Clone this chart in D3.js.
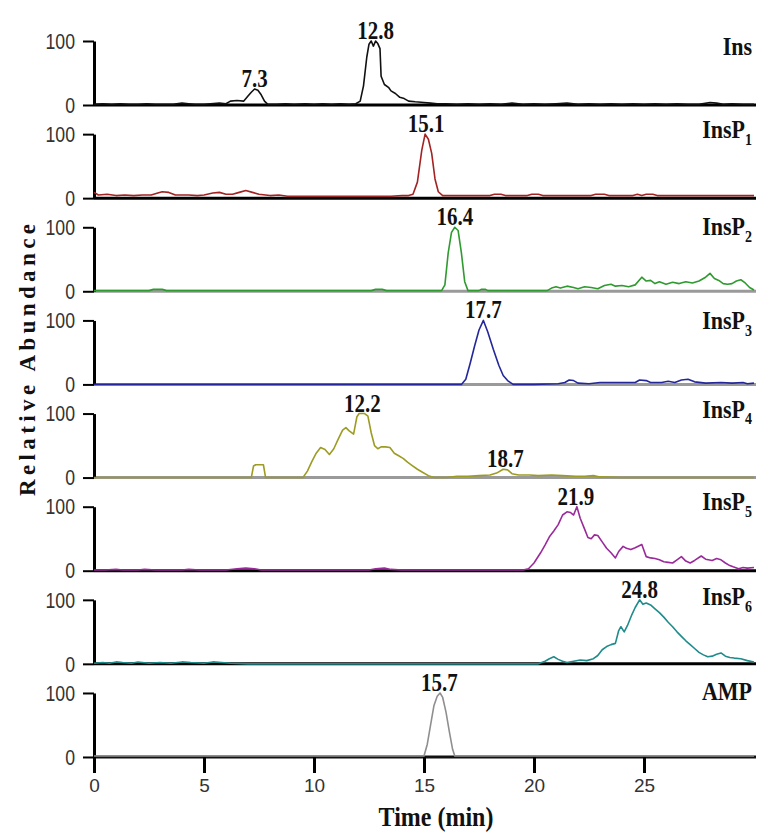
<!DOCTYPE html>
<html>
<head>
<meta charset="utf-8">
<script src="https://cdn.jsdelivr.net/npm/d3@7/dist/d3.min.js"></script>
<style>
  html, body { margin: 0; padding: 0; background: #fff; }
  svg { display: block; }
</style>
</head>
<body>
<svg id="chart" width="761" height="840"></svg>
<script>
// ---------------- DATA ----------------
const panelNames = ["Ins", "InsP", "InsP", "InsP", "InsP", "InsP", "InsP", "AMP"];
const panelSubs  = ["", "1", "2", "3", "4", "5", "6", ""];
const yTickValues = [0, 100];
const xTickValues = [0, 5, 10, 15, 20, 25];

const traceIns = [[0,1],[0.4,2],[0.8,1],[1.2,2],[1.6,1],[2.0,1],[2.4,2],[2.8,1],[3.2,1],[3.6,1],[4.0,3],[4.3,2],[4.6,1],[5.0,1],[5.3,2],[5.7,3],[6.0,2],[6.2,6],[6.5,7],[6.8,6],[7.0,14],[7.15,20],[7.3,25],[7.45,23],[7.6,16],[7.75,6],[7.9,1],[8.3,1],[8.7,2],[9.1,1],[9.6,2],[10.0,1],[10.4,2],[10.8,1],[11.2,2],[11.6,1],[11.9,2],[12.1,6],[12.25,30],[12.4,75],[12.5,95],[12.6,100],[12.7,92],[12.8,100],[12.9,96],[13.0,88],[13.05,45],[13.2,32],[13.4,27],[13.5,22],[13.7,18],[13.9,12],[14.1,10],[14.3,6],[14.6,5],[15.0,4],[15.3,3],[15.6,2],[16.0,2],[16.5,1],[17.0,2],[17.5,1],[18.0,2],[18.5,1],[19.0,3],[19.5,1],[20.0,2],[20.5,1],[21.0,2],[21.5,3],[22.0,1],[22.5,2],[23.0,1],[23.5,2],[24.0,1],[24.5,2],[25.0,1],[25.5,2],[26.0,1],[26.5,2],[27.0,1],[27.5,1],[28.0,4],[28.3,3],[28.6,1],[29.0,2],[29.5,1],[30,1]];

const traceInsP1 = [[0,9],[0.2,5],[0.6,6],[1.0,4],[1.4,5],[1.8,4],[2.2,5],[2.6,5],[2.9,8],[3.1,10],[3.4,9],[3.7,5],[4.3,5],[4.7,4],[5.0,5],[5.4,8],[5.7,9],[6.0,6],[6.3,6],[6.6,9],[6.9,12],[7.2,9],[7.5,6],[8.0,4],[8.4,5],[8.8,3],[9.5,3],[10.5,3],[11.5,3],[12.5,3],[13.5,3],[14.0,4],[14.3,4],[14.5,6],[14.7,25],[14.9,75],[15.05,100],[15.2,92],[15.35,70],[15.5,30],[15.65,10],[15.85,4],[16.4,4],[17.0,4],[18.0,4],[18.2,6],[18.5,6],[18.7,4],[19.7,4],[19.9,6],[20.2,6],[20.4,4],[21.5,4],[22.6,4],[22.8,6],[23.2,6],[23.4,4],[24.5,4],[24.7,6],[24.9,4],[25.1,6],[25.4,6],[25.6,4],[26.5,4],[27.5,4],[28.5,4],[29.5,4],[30,4]];

const traceInsP2 = [[0,1],[1,1],[2.5,1],[2.7,3],[3.1,3],[3.3,1],[5,1],[7,1],[9,1],[11,1],[12.6,1],[12.8,3],[13.1,3],[13.3,1],[15.0,1],[15.8,1],[15.95,10],[16.1,60],[16.25,92],[16.4,100],[16.55,95],[16.7,60],[16.85,15],[17.0,1],[17.5,1],[17.6,3],[17.8,3],[17.9,1],[19,1],[20.6,1],[20.8,5],[21.0,7],[21.2,5],[21.5,8],[21.8,6],[22.0,4],[22.3,7],[22.6,6],[22.9,4],[23.2,9],[23.5,11],[23.7,8],[24.0,9],[24.3,7],[24.6,10],[24.9,22],[25.1,16],[25.3,17],[25.5,12],[25.7,15],[26.0,11],[26.3,14],[26.6,12],[26.9,15],[27.2,13],[27.5,16],[27.8,22],[28.0,28],[28.2,20],[28.4,17],[28.6,12],[28.8,11],[29.0,12],[29.2,16],[29.4,18],[29.6,13],[29.8,6],[30,2]];

const traceInsP3 = [[0,0],[5,0],[10,0],[15,0],[16.7,0],[16.9,8],[17.1,33],[17.3,60],[17.5,85],[17.7,100],[17.9,82],[18.15,55],[18.4,30],[18.6,14],[18.8,6],[19.05,0],[20.0,0],[21.1,1],[21.4,3],[21.6,7],[21.8,6],[22.0,2],[22.5,1],[23.0,3],[24.0,3],[24.6,3],[24.8,7],[25.1,6],[25.3,3],[25.8,3],[26.1,5],[26.4,3],[26.7,7],[27.0,8],[27.3,4],[27.8,2],[28.5,3],[29.0,2],[29.5,3],[29.7,1],[30,2]];

const traceInsP4 = [[0,0],[3,0],[7.15,0],[7.25,18],[7.35,20],[7.7,20],[7.8,0],[9.5,0],[9.7,10],[9.9,25],[10.1,38],[10.3,47],[10.5,44],[10.7,36],[10.9,45],[11.1,60],[11.3,74],[11.45,78],[11.6,73],[11.8,68],[11.95,95],[12.05,100],[12.3,100],[12.45,96],[12.6,70],[12.75,50],[12.9,45],[13.05,48],[13.25,48],[13.45,47],[13.65,38],[13.85,34],[14.05,30],[14.25,24],[14.45,19],[14.7,13],[14.95,8],[15.2,3],[15.45,0],[16.0,0],[16.5,2],[17.0,2],[17.5,3],[18.0,4],[18.3,7],[18.6,13],[18.8,12],[19.0,6],[19.3,4],[19.8,4],[20.2,3],[20.8,4],[21.3,3],[21.9,2],[22.3,2],[22.7,3],[23.0,1],[24,0],[26,0],[30,0]];

const traceInsP5 = [[0,1],[0.5,1],[1.0,2],[1.3,1],[2.0,1],[2.3,2],[2.8,1],[3.5,1],[4.0,1],[4.3,2],[4.8,1],[6.0,1],[6.5,3],[6.9,4],[7.3,3],[7.6,1],[9,1],[11,1],[12.5,1],[12.8,3],[13.2,4],[13.5,2],[14,1],[16,1],[18,1],[19.5,1],[19.75,3],[20.0,12],[20.3,28],[20.5,40],[20.7,53],[20.9,62],[21.1,72],[21.3,87],[21.5,92],[21.65,91],[21.8,87],[21.95,100],[22.1,82],[22.3,65],[22.45,52],[22.6,50],[22.75,56],[22.9,55],[23.1,45],[23.3,35],[23.5,28],[23.7,20],[23.85,30],[24.05,38],[24.2,35],[24.4,33],[24.6,36],[24.9,41],[25.1,22],[25.3,20],[25.5,19],[25.7,17],[25.9,14],[26.1,13],[26.3,12],[26.5,17],[26.7,22],[26.9,15],[27.1,12],[27.3,16],[27.6,23],[27.8,18],[28.1,16],[28.3,19],[28.5,17],[28.7,12],[28.9,8],[29.05,6],[29.3,3],[29.5,5],[29.7,4],[30,5]];

const traceInsP6 = [[0,1],[0.4,2],[0.7,1],[1.0,3],[1.3,2],[1.7,1],[2.0,3],[2.5,1],[3.0,2],[3.5,1],[4.0,3],[4.4,2],[5.0,1],[5.4,3],[5.8,2],[6.2,1],[7,0],[10,0],[13,0],[16,0],[20.2,0],[20.5,4],[20.7,8],[20.9,11],[21.1,7],[21.3,4],[21.5,2],[21.8,4],[22.1,6],[22.4,5],[22.7,8],[22.9,13],[23.1,22],[23.3,27],[23.5,30],[23.7,32],[23.85,52],[23.95,58],[24.1,50],[24.25,60],[24.45,77],[24.6,88],[24.8,100],[24.95,93],[25.1,95],[25.3,92],[25.5,86],[25.7,80],[25.9,73],[26.1,65],[26.3,58],[26.5,50],[26.7,43],[26.9,36],[27.1,30],[27.3,24],[27.5,18],[27.7,14],[27.9,11],[28.1,12],[28.3,15],[28.5,17],[28.7,12],[28.9,10],[29.1,9],[29.4,8],[29.7,5],[30,3]];

const traceAMP = [[0,1.5],[15.0,1.5],[15.15,20],[15.3,50],[15.45,80],[15.6,95],[15.73,100],[15.85,93],[16.0,70],[16.15,40],[16.3,12],[16.4,1.5],[30,1.5]];

const traces = [traceIns, traceInsP1, traceInsP2, traceInsP3, traceInsP4, traceInsP5, traceInsP6, traceAMP];

// peak annotations: panel index, retention time, peak height (value), label
const peakPanel = [0, 0, 1, 2, 3, 4, 4, 5, 6, 7];
const peakTime  = [7.3, 12.8, 15.1, 16.4, 17.7, 12.2, 18.7, 21.9, 24.8, 15.7];
const peakValue = [25, 100, 100, 100, 100, 100, 14, 100, 100, 100];
const peakText  = ["7.3", "12.8", "15.1", "16.4", "17.7", "12.2", "18.7", "21.9", "24.8", "15.7"];

// ---------------- STYLE / LAYOUT ----------------
const traceColors = ["#111111", "#a32222", "#2f9a2f", "#23279a", "#9c9c22", "#9a2a9a", "#1f8b8b", "#8f8f8f"];
const baseColors  = ["#000", "#000", "#9a9a9a", "#9a9a9a", "#9a9a9a", "#000", "#000", "#111"];
const labelDy = [14, 4, 8, 9, 4, 3, 5, 7];

const svg = d3.select("#chart");
const x = d3.scaleLinear().domain([0, 30]).range([94, 754]);
const firstBase = 105, panelStep = 93.14, panelH = 64;

const serif = "'Liberation Serif', 'Times New Roman', serif";
const sans = "'Liberation Sans', Arial, sans-serif";

traces.forEach((data, i) => {
  const yb = firstBase + i * panelStep;
  const y = d3.scaleLinear().domain([0, 100]).range([yb, yb - panelH]);
  const g = svg.append("g");

  // baseline
  g.append("line")
    .attr("x1", x(0)).attr("x2", x(30) + 2)
    .attr("y1", y(0)).attr("y2", y(0))
    .attr("stroke", baseColors[i]).attr("stroke-width", 3);

  // y axis
  const ax = g.append("g").attr("transform", `translate(${x(0)},0)`)
    .call(d3.axisLeft(y).tickValues(yTickValues).tickSize(11).tickSizeOuter(0).tickPadding(8));
  ax.select(".domain").attr("stroke", "#000").attr("stroke-width", 3);
  ax.selectAll(".tick line").attr("stroke", "#000").attr("stroke-width", 2);
  ax.selectAll(".tick text")
    .attr("font-family", sans).attr("font-size", 19).attr("fill", "#333")
    .attr("x", 0).attr("dy", "0.34em")
    .attr("transform", "translate(-19,0) scale(0.93,1.12)");

  // trace
  const line = d3.line().x(d => x(d[0])).y(d => y(d[1]));
  g.append("path").datum(data)
    .attr("d", line)
    .attr("fill", "none")
    .attr("stroke", traceColors[i])
    .attr("stroke-width", 1.6)
    .attr("stroke-linejoin", "round");

  // series label
  const lx = 752, ly = y(100) + labelDy[i];
  const t = g.append("text")
    .attr("transform", `translate(${lx},${ly}) scale(1,1.15)`)
    .attr("text-anchor", "end")
    .attr("font-family", serif).attr("font-weight", "bold").attr("font-size", 22)
    .attr("fill", "#111");
  t.append("tspan").text(panelNames[i]);
  if (panelSubs[i]) {
    t.append("tspan").attr("font-size", 14).attr("dy", 6).text(panelSubs[i]);
  }
});

// peak labels
peakText.forEach((txt, k) => {
  const i = peakPanel[k];
  const yb = firstBase + i * panelStep;
  const y = d3.scaleLinear().domain([0, 100]).range([yb, yb - panelH]);
  svg.append("text")
    .attr("transform", `translate(${x(peakTime[k])},${y(peakValue[k]) - 2}) scale(1,1.18)`)
    .attr("text-anchor", "middle")
    .attr("font-family", serif).attr("font-size", 21).attr("font-weight", "bold")
    .attr("fill", "#111")
    .text(txt);
});

// bottom x axis ticks
const lastBase = firstBase + 7 * panelStep;
const xa = svg.append("g").attr("transform", `translate(0,${lastBase})`)
  .call(d3.axisBottom(x).tickValues(xTickValues).tickFormat(d3.format("d")).tickSize(16).tickSizeOuter(0).tickPadding(6));
xa.select(".domain").remove();
xa.selectAll(".tick line").attr("stroke", "#000").attr("stroke-width", 3);
xa.selectAll(".tick text").attr("font-family", sans).attr("font-size", 19).attr("fill", "#333");

// axis titles
svg.append("text")
  .attr("transform", `translate(436,826) scale(1,1.12)`)
  .attr("text-anchor", "middle")
  .attr("font-family", serif).attr("font-weight", "bold").attr("font-size", 24)
  .attr("fill", "#111")
  .text("Time (min)");

svg.append("text")
  .attr("transform", `translate(35,360) rotate(-90)`)
  .attr("text-anchor", "middle")
  .attr("font-family", serif).attr("font-weight", "bold").attr("font-size", 23)
  .attr("textLength", 272).attr("lengthAdjust", "spacing")
  .attr("fill", "#111")
  .text("Relative Abundance");
</script>
</body>
</html>
